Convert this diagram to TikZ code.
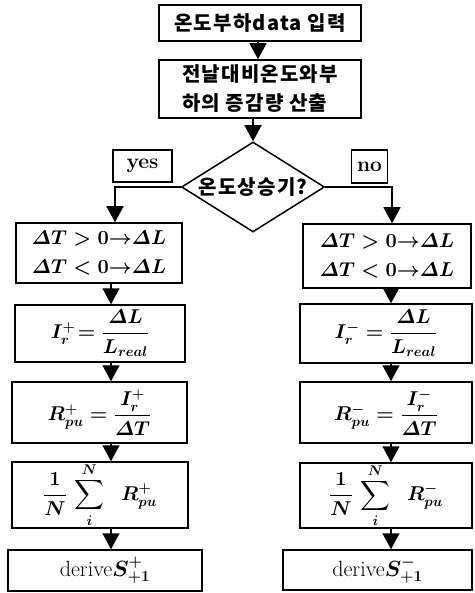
\documentclass[tikz,border=0pt]{standalone}
\usepackage{fix-cm}
\usepackage{amsmath}
\usepackage{fontspec}
\newfontfamily\kr[LetterSpace=6]{Noto Sans CJK KR}
\usetikzlibrary{shapes.geometric,arrows.meta}
\newcommand{\tightto}{\mathord{\rightarrow}}
\begin{document}
\begin{tikzpicture}[x=1pt,y=-1pt,
  box/.style={draw, line width=1.5pt, inner sep=0pt, font=\fontsize{20}{24}\selectfont\boldmath},
  krbox/.style={draw, line width=1.5pt, inner sep=0pt, font=\fontsize{20}{29}\selectfont\kr\bfseries},
  lbl/.style={draw, line width=1.5pt, inner sep=0pt, font=\fontsize{21}{24}\selectfont\bfseries},
  dbox/.style={draw, line width=1.5pt, inner sep=0pt, font=\fontsize{22}{26}\selectfont\boldmath},
  arr/.style={line width=1.5pt, -{Triangle[width=17pt,length=16pt]}}]
\useasboundingbox (0,0) rectangle (474,593);
% top
\node[krbox, minimum width=202pt, minimum height=36pt] (b1) at (260,23) {온도부하data 입력};
\node[krbox, minimum width=202pt, minimum height=58pt, align=left] (b2) at (260,89) {전날대비온도와부\\하의 증감량 산출};
\node[draw, line width=1.5pt, shape=diamond, aspect=1.59, inner sep=0pt,
      minimum width=143pt, minimum height=90pt, font=\fontsize{20}{22}\selectfont\kr\bfseries] (dia) at (253,187) {온도상승기?};
\node[lbl, minimum width=59pt, minimum height=32pt] (yes) at (142.5,166) {yes};
\node[lbl, minimum width=36pt, minimum height=33pt] (no) at (369.5,166.5) {no};
% left column
\node[box, minimum width=166pt, minimum height=60pt, align=left] (L1) at (99,253)
  {$\varDelta T>0\tightto\varDelta L$\\[5pt]$\varDelta T<0\tightto\varDelta L$};
\node[box, minimum width=170pt, minimum height=57pt] (L2) at (100,333.5)
  {$I_r^{+}\!=\dfrac{\varDelta L}{L_{real}}$};
\node[box, minimum width=175pt, minimum height=61pt] (L3) at (99.5,412.5)
  {$R_{pu}^{+}=\dfrac{I_r^{+}}{\varDelta T}$};
\node[box, minimum width=176pt, minimum height=66pt] (L4) at (100,495)
  {$\dfrac{1}{N}\,\displaystyle\sum_{i}^{N}\;\; R_{pu}^{+}$};
\node[dbox, minimum width=194pt, minimum height=41pt] (L5) at (105,570.5)
  {derive$S_{+1}^{+}$};
% right column
\node[box, minimum width=168pt, minimum height=64pt, align=left] (R1) at (387,256)
  {$\varDelta T>0\tightto\varDelta L$\\[5pt]$\varDelta T<0\tightto\varDelta L$};
\node[box, minimum width=172pt, minimum height=59pt] (R2) at (386,333.5)
  {$I_r^{-}=\dfrac{\varDelta L}{L_{real}}$};
\node[box, minimum width=172pt, minimum height=61pt] (R3) at (386,412.5)
  {$R_{pu}^{-}=\dfrac{I_r^{-}}{\varDelta T}$};
\node[box, minimum width=172pt, minimum height=65pt] (R4) at (386,495.5)
  {$\dfrac{1}{N}\,\displaystyle\sum_{i}^{N}\;\; R_{pu}^{-}$};
\node[dbox, minimum width=189pt, minimum height=40pt] (R5) at (377.5,570)
  {derive$S_{+1}^{-}$};
% column guide coordinates
\coordinate (colT) at (258,0);
\coordinate (colY) at (115,0);
\coordinate (colN) at (392,0);
\coordinate (colL) at (111,0);
\coordinate (colR) at (391,0);
% connectors
\draw[arr] (b1.south -| colT) -- (b2.north -| colT);
\draw[arr] (b2.south -| dia.north) -- (dia.north);
\draw[arr] (dia.west) -| (L1.north -| colY);
\draw[arr] (dia.east) -| (R1.north -| colN);
\draw[arr] (L1.south -| colL) -- (L2.north -| colL);
\draw[arr] (L2.south -| colL) -- (L3.north -| colL);
\draw[arr] (L3.south -| colL) -- (L4.north -| colL);
\draw[arr] (L4.south -| colL) -- (L5.north -| colL);
\draw[arr] (R1.south -| colR) -- (R2.north -| colR);
\draw[arr] (R2.south -| colR) -- (R3.north -| colR);
\draw[arr] (R3.south -| colR) -- (R4.north -| colR);
\draw[arr] (R4.south -| colR) -- (R5.north -| colR);
\end{tikzpicture}
\end{document}
